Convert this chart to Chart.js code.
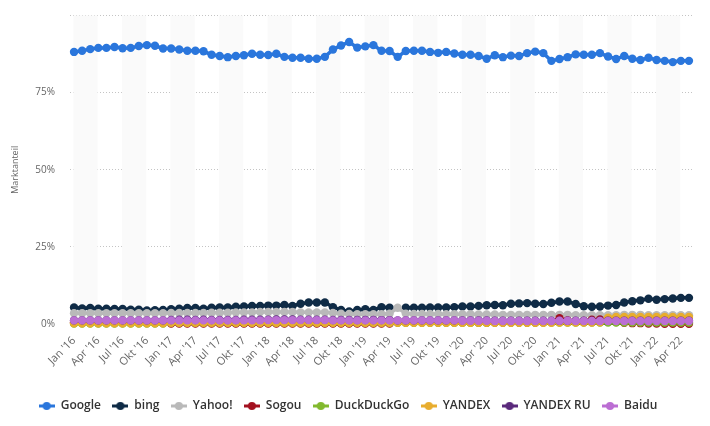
<!DOCTYPE html>
<html>
<head>
<meta charset="utf-8">
<script src="https://cdn.jsdelivr.net/npm/chart.js@4"></script>
<style>
  html, body { margin: 0; background: #fff; }
  canvas { display: block; }
</style>
</head>
<body>
<canvas id="chart" width="710" height="426"></canvas>
<script>
const months = [
  "Jan '16","Feb '16","Mrz '16","Apr '16","Mai '16","Jun '16","Jul '16","Aug '16","Sep '16","Okt '16","Nov '16","Dez '16",
  "Jan '17","Feb '17","Mrz '17","Apr '17","Mai '17","Jun '17","Jul '17","Aug '17","Sep '17","Okt '17","Nov '17","Dez '17",
  "Jan '18","Feb '18","Mrz '18","Apr '18","Mai '18","Jun '18","Jul '18","Aug '18","Sep '18","Okt '18","Nov '18","Dez '18",
  "Jan '19","Feb '19","Mrz '19","Apr '19","Mai '19","Jun '19","Jul '19","Aug '19","Sep '19","Okt '19","Nov '19","Dez '19",
  "Jan '20","Feb '20","Mrz '20","Apr '20","Mai '20","Jun '20","Jul '20","Aug '20","Sep '20","Okt '20","Nov '20","Dez '20",
  "Jan '21","Feb '21","Mrz '21","Apr '21","Mai '21","Jun '21","Jul '21","Aug '21","Sep '21","Okt '21","Nov '21","Dez '21",
  "Jan '22","Feb '22","Mrz '22","Apr '22","Mai '22"
];

const google = [
  88.2,88.6,89.1,89.5,89.5,89.8,89.4,89.5,90.1,90.4,90.2,89.3,
  89.3,89.0,88.6,88.6,88.4,87.3,86.9,86.5,86.9,87.1,87.6,87.3,
  87.2,87.6,86.6,86.3,86.3,86.0,86.0,86.6,89.0,90.3,91.4,89.6,
  90.0,90.4,88.6,88.5,86.6,88.5,88.6,88.6,88.2,87.9,88.2,87.7,
  87.3,87.3,86.9,86.0,87.1,86.5,87.0,86.9,87.8,88.3,87.8,85.3,
  85.9,86.5,87.4,87.3,87.3,87.8,86.7,85.9,86.9,86.0,85.6,86.3,
  85.6,85.3,84.9,85.3,85.3
];
const bing = [
  5.4,5.1,5.2,5.0,5.0,4.9,4.9,4.7,4.7,4.4,4.5,4.6,
  4.8,5.0,5.2,5.2,5.0,5.3,5.4,5.4,5.6,5.7,5.9,5.9,
  6.0,6.0,6.2,5.9,6.6,7.0,7.0,7.0,5.5,4.6,4.1,4.6,
  4.8,4.6,5.5,5.3,null,5.3,5.3,5.3,5.4,5.4,5.4,5.5,
  5.7,5.7,5.9,6.1,6.2,6.1,6.6,6.7,6.8,6.6,6.5,6.9,
  7.3,7.3,6.5,5.8,5.6,5.7,6.0,6.2,7.0,7.4,7.7,8.2,
  7.9,8.1,8.3,8.5,8.5
];
const yahoo = [
  3.5,3.5,3.5,3.5,3.5,3.5,3.5,3.5,3.5,3.5,3.5,3.5,
  3.6,3.6,3.6,3.6,3.6,3.7,3.7,3.7,3.8,3.8,3.8,3.9,
  3.9,3.9,3.9,3.9,3.8,3.8,3.8,3.8,3.6,3.4,3.3,3.2,
  3.2,3.2,3.2,3.4,5.3,3.4,3.3,3.3,3.3,3.3,3.2,3.2,
  3.2,3.2,3.1,3.1,3.1,3.0,3.0,3.0,3.0,3.0,3.0,3.0,
  3.0,3.0,2.9,2.9,2.9,2.9,2.9,2.9,3.0,3.0,3.0,2.9,
  2.9,2.9,2.9,2.9,2.9
];
const sogou = [
  0.6,0.6,0.6,0.6,0.6,0.6,0.6,0.6,0.6,0.6,0.6,0.6,
  0.15,0.15,0.15,0.15,0.15,0.15,0.15,0.15,0.15,0.15,0.15,0.15,
  0.15,0.15,0.15,0.15,0.15,0.15,0.15,0.15,0.15,0.15,0.15,0.15,
  0.15,0.15,0.15,0.15,0.7,0.6,0.6,0.6,0.6,0.6,0.6,0.6,
  0.6,0.6,0.5,0.5,0.5,0.5,0.5,0.5,0.5,0.5,0.6,0.8,
  1.9,1.2,0.9,1.0,1.4,1.5,1.0,0.7,0.4,0.3,0.3,0.2,
  0.2,0.1,0.1,0.1,0.1
];
const duckduckgo = [
  0.15,0.15,0.15,0.15,0.15,0.15,0.15,0.15,0.15,0.15,0.15,0.15,
  0.4,0.4,0.4,0.4,0.4,0.4,0.4,0.4,0.4,0.4,0.4,0.4,
  0.4,0.4,0.4,0.4,0.4,0.4,0.4,0.4,0.4,0.4,0.4,0.4,
  0.4,0.4,0.4,0.4,0.4,0.4,0.4,0.4,0.4,0.4,0.4,0.4,
  0.4,0.4,0.4,0.4,0.5,0.5,0.5,0.5,0.5,0.5,0.5,0.5,
  0.5,0.5,0.5,0.5,0.5,0.5,0.5,0.5,0.5,0.5,0.5,0.5,
  0.5,0.5,0.5,0.5,0.5
];
const yandex = [
  0.25,0.25,0.25,0.25,0.25,0.25,0.25,0.25,0.25,0.25,0.25,0.25,
  0.4,0.4,0.4,0.4,0.4,0.4,0.4,0.4,0.4,0.4,0.4,0.4,
  0.4,0.4,0.4,0.4,0.4,0.4,0.4,0.4,0.4,0.4,0.4,0.4,
  0.4,0.4,0.4,0.4,0.4,0.4,0.4,0.4,0.4,0.4,0.4,0.4,
  0.4,0.4,0.4,0.4,0.4,0.4,0.4,0.4,0.4,0.4,0.4,0.4,
  0.5,0.5,0.5,0.5,0.5,0.6,2.1,2.3,2.3,2.3,2.3,2.3,
  2.3,2.3,2.3,2.3,2.3
];
const yandexRu = [
  1.2,1.2,1.2,1.2,1.2,1.2,1.2,1.2,1.2,1.2,1.2,1.2,
  1.35,1.4,1.4,1.35,1.4,1.35,1.35,1.35,1.35,1.4,1.4,1.4,
  1.45,1.5,1.5,1.5,1.45,1.4,1.4,1.4,1.35,1.35,1.35,1.35,
  1.35,1.35,1.3,1.3,1.2,1.2,1.2,1.2,1.2,1.2,1.2,1.2,
  1.2,1.2,1.2,1.2,1.1,1.1,1.1,1.1,1.1,1.1,1.1,1.1,
  1.1,1.1,1.1,1.1,1.1,1.1,1.1,1.1,1.1,1.1,1.1,1.1,
  1.1,1.1,1.1,1.1,1.1
];
const baidu = [
  1.2,1.2,1.2,1.2,1.2,1.2,1.2,1.2,1.2,1.2,1.2,1.2,
  1.2,1.2,1.2,1.2,1.2,1.2,1.2,1.2,1.2,1.2,1.2,1.2,
  1.3,1.3,1.3,1.3,1.3,1.3,1.3,1.3,1.2,1.2,1.2,1.2,
  1.2,1.2,1.2,1.2,1.2,1.2,1.2,1.2,1.2,1.2,1.2,1.2,
  1.1,1.1,1.1,1.1,1.0,1.0,1.0,1.0,1.0,1.0,1.0,1.0,
  1.1,1.1,1.0,1.0,1.0,1.0,1.0,1.0,1.0,1.0,1.0,1.0,
  1.0,1.0,1.0,1.0,1.0
];

const seriesNames = ['Google', 'bing', 'Yahoo!', 'Sogou', 'DuckDuckGo', 'YANDEX', 'YANDEX RU', 'Baidu'];
const seriesValues = [google, bing, yahoo, sogou, duckduckgo, yandex, yandexRu, baidu];
const seriesColors = ['#2a76dc', '#0f2b46', '#b9b9b9', '#a3101f', '#82b92e', '#e8ad2e', '#5a2a7c', '#bb6ed3'];

const FONT = '"Open Sans", sans-serif';

// legend key: short line with a dot in the middle
function legendKey(color) {
  const c = document.createElement('canvas');
  c.width = 16;
  c.height = 10;
  const g = c.getContext('2d');
  g.fillStyle = color;
  g.fillRect(0, 3.5, 16, 3);
  g.beginPath();
  g.arc(8, 5, 4, 0, Math.PI * 2);
  g.fill();
  return c;
}

// pale quarter stripes behind the lines, every second quarter
const stripes = {
  id: 'stripes',
  beforeDatasetsDraw(chart) {
    const x = chart.scales.x;
    const area = chart.chartArea;
    const g = chart.ctx;
    g.save();
    g.fillStyle = '#fafafa';
    for (let i = 0; i < months.length; i += 6) {
      const from = x.getPixelForValue(i) - 0.7;
      const to = x.getPixelForValue(Math.min(i + 3, months.length)) - 0.7;
      g.fillRect(from, area.top, to - from, area.bottom - area.top);
    }
    g.restore();
  }
};

new Chart(document.getElementById('chart').getContext('2d'), {
  type: 'line',
  plugins: [stripes],
  data: {
    labels: months,
    datasets: seriesNames.map((name, i) => ({
      label: name,
      data: seriesValues[i],
      borderColor: seriesColors[i],
      backgroundColor: seriesColors[i],
      borderWidth: 3.5,
      pointRadius: 4.2,
      pointBorderWidth: 0,
      tension: 0,
      spanGaps: false,
      clip: false,
      order: seriesNames.length - i
    }))
  },
  options: {
    responsive: false,
    animation: false,
    layout: { padding: { left: 3, right: 17, top: 15.5, bottom: 4 } },
    plugins: {
      tooltip: { enabled: false },
      legend: {
        position: 'bottom',
        labels: {
          usePointStyle: true,
          pointStyleWidth: 16,
          padding: 11.4,
          color: '#333',
          font: { family: FONT, size: 12, weight: '600' },
          sort: (a, b) => a.datasetIndex - b.datasetIndex,
          generateLabels(chart) {
            return seriesNames.map((name, i) => ({
              text: name,
              datasetIndex: i,
              pointStyle: legendKey(seriesColors[i]),
              fontColor: '#333',
              lineWidth: 0
            }));
          }
        }
      }
    },
    scales: {
      x: {
        offset: true,
        grid: { display: false },
        border: { display: false },
        afterFit(scale) { scale.height = 64.5; },
        ticks: {
          autoSkip: false,
          minRotation: 45,
          maxRotation: 45,
          padding: 2,
          color: '#666',
          font: { family: FONT, size: 11 },
          callback(value, index) {
            return index % 3 === 0 ? months[index] : '';
          }
        }
      },
      y: {
        min: 0,
        max: 100,
        afterFit(scale) {
          scale.width = 67;
          scale.paddingTop = 0;
          scale.paddingBottom = 0;
        },
        border: { display: false, dash: ctx => ctx.tick && ctx.tick.value === 0 ? [] : [1, 2] },
        grid: {
          drawTicks: false,
          lineWidth: 1,
          color: ctx => ctx.tick.value === 0 ? '#222' : '#c4c4c4'
        },
        title: {
          display: true,
          text: 'Marktanteil',
          color: '#666',
          padding: { top: 7, bottom: 0 },
          font: { family: FONT, size: 9 }
        },
        ticks: {
          stepSize: 25,
          padding: 15,
          color: '#666',
          font: { family: FONT, size: 10 },
          callback(value) {
            return value === 100 ? '' : value + '%';
          }
        }
      }
    }
  }
});
</script>
</body>
</html>
